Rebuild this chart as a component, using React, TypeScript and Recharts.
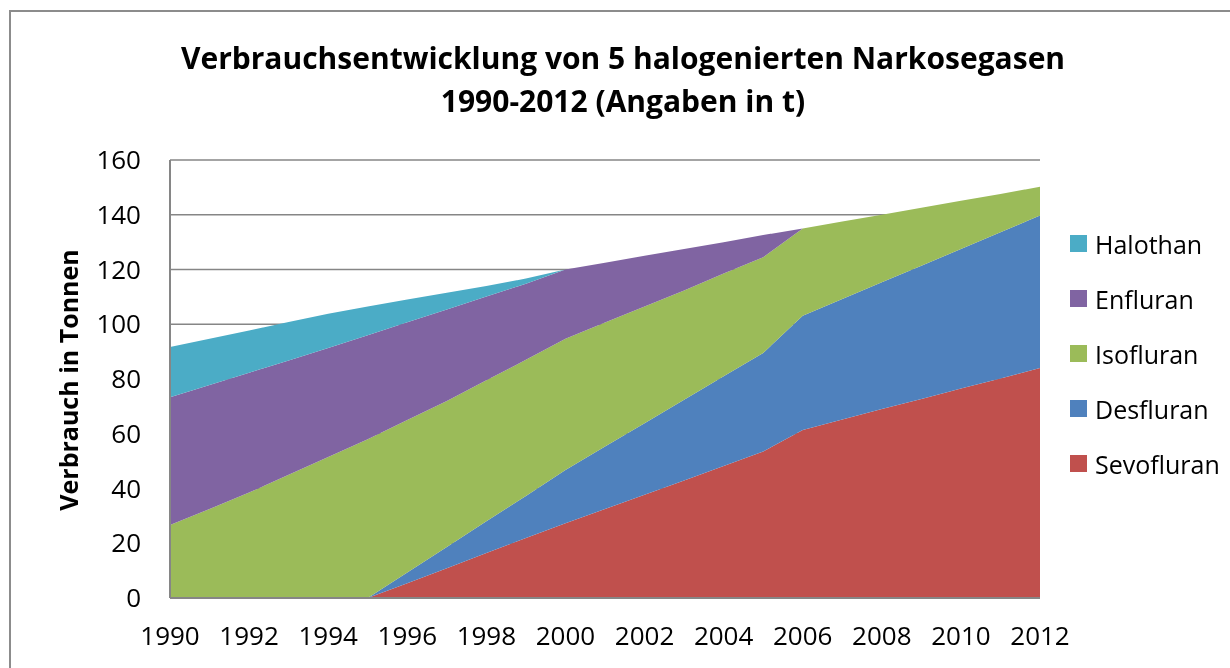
import React from 'react';
import { AreaChart, Area, XAxis, YAxis, CartesianGrid, Legend } from 'recharts';

const years = [1990, 1991, 1992, 1993, 1994, 1995, 1996, 1997, 1998, 1999, 2000, 2001, 2002, 2003, 2004, 2005, 2006, 2007, 2008, 2009, 2010, 2011, 2012];
const sevofluran = [0, 0, 0, 0, 0, 0, 5.4, 10.9, 16.4, 21.9, 27.3, 32.5, 37.7, 42.9, 48.2, 53.5, 61.4, 65.2, 69, 72.7, 76.5, 80.2, 84];
const desfluran = [0, 0, 0, 0, 0, 0, 3.9, 7.7, 11.6, 15.4, 19.5, 22.8, 26.1, 29.5, 32.8, 36, 41.7, 44, 46.3, 48.7, 51, 53.4, 55.7];
const isofluran = [26.7, 32.5, 38.5, 45, 51.5, 58, 55.7, 53.4, 51.5, 49.7, 47.9, 45.3, 42.7, 39.9, 37.5, 35, 31.9, 28.3, 24.7, 21.2, 17.6, 14, 10.5];
const enfluran = [46.6, 45.3, 43.8, 41.8, 39.8, 38, 35.7, 33.4, 30.6, 27.8, 25.3, 21.9, 18.5, 15.2, 11.5, 8.1, 0, 0, 0, 0, 0, 0, 0];
const halothan = [18.4, 16.9, 15.4, 14, 12.5, 10.5, 8.3, 6.1, 3.9, 1.9, 0, 0, 0, 0, 0, 0, 0, 0, 0, 0, 0, 0, 0];
const yTicks = [0, 20, 40, 60, 80, 100, 120, 140, 160];

const seriesNames = ['Sevofluran', 'Desfluran', 'Isofluran', 'Enfluran', 'Halothan'];
const seriesColors = ['#C0504D', '#4F81BD', '#9BBB59', '#8064A2', '#4BACC6'];
const seriesValues = [sevofluran, desfluran, isofluran, enfluran, halothan];

const data = years.map((y, i) => {
  const row: Record<string, number | string> = { year: String(y) };
  seriesNames.forEach((n, k) => {
    row[n] = seriesValues[k][i];
  });
  return row;
});

const FONT = '"Open Sans", sans-serif';

const LegendContent = () => {
  const order = [4, 3, 2, 1, 0];
  return (
    <div style={{ fontFamily: FONT }}>
      {order.map((k) => (
        <div key={seriesNames[k]} style={{ height: 55, display: 'flex', alignItems: 'center' }}>
          <div style={{ width: 17, height: 17, background: seriesColors[k], marginRight: 8, flexShrink: 0 }} />
          <span style={{ fontSize: 25, color: '#000', lineHeight: '30px', whiteSpace: 'nowrap' }}>{seriesNames[k]}</span>
        </div>
      ))}
    </div>
  );
};

export default function App() {
  return (
    <div style={{ position: 'relative', width: 1222, height: 652, overflow: 'hidden', background: '#fff' }}>
      <div
        style={{
          position: 'fixed',
          left: 9,
          top: 10,
          width: 1221,
          height: 658,
          borderTop: '2px solid #8c8c8c',
          borderLeft: '2px solid #8c8c8c',
          boxSizing: 'border-box',
          pointerEvents: 'none',
        }}
      />
      <div
        style={{
          position: 'absolute',
          left: 8,
          top: 28,
          width: 1214,
          textAlign: 'center',
          fontFamily: FONT,
          fontWeight: 700,
          fontSize: 30,
          lineHeight: '43px',
          color: '#000',
        }}
      >
        <div>Verbrauchsentwicklung von 5 halogenierten Narkosegasen</div>
        <div>1990-2012 (Angaben in t)</div>
      </div>
      <div
        style={{
          position: 'absolute',
          left: 59.5,
          top: 372,
          transform: 'translate(-50%, -50%) rotate(-90deg)',
          whiteSpace: 'nowrap',
          fontFamily: FONT,
          fontWeight: 700,
          fontSize: 25,
          color: '#000',
        }}
      >
        Verbrauch in Tonnen
      </div>
      <div style={{ position: 'absolute', left: 0, top: 0 }}>
        <AreaChart
          width={1222}
          height={652}
          data={data}
          margin={{ top: 152, right: 190, bottom: 22, left: 102 }}
        >
          <CartesianGrid horizontal vertical={false} stroke="#868686" strokeWidth={1.5} />
          <XAxis
            dataKey="year"
            interval={1}
            height={40}
            tickLine={false}
            tickMargin={23}
            axisLine={{ stroke: '#868686', strokeWidth: 2 }}
            tick={{ fontSize: 26, fill: '#000', fontFamily: FONT }}
          />
          <YAxis
            width={60}
            domain={[0, 160]}
            ticks={yTicks}
            tickLine={false}
            tickMargin={23}
            axisLine={{ stroke: '#868686', strokeWidth: 2 }}
            tick={{ fontSize: 26, fill: '#000', fontFamily: FONT }}
          />
          {seriesNames.map((n, k) => (
            <Area
              key={n}
              type="linear"
              dataKey={n}
              stackId="a"
              stroke="none"
              fill={seriesColors[k]}
              fillOpacity={1}
              isAnimationActive={false}
            />
          ))}
          <Legend
            layout="vertical"
            align="center"
            verticalAlign="middle"
            wrapperStyle={{ left: 1062, top: 208, width: 160 }}
            content={() => <LegendContent />}
          />
        </AreaChart>
      </div>
    </div>
  );
}
